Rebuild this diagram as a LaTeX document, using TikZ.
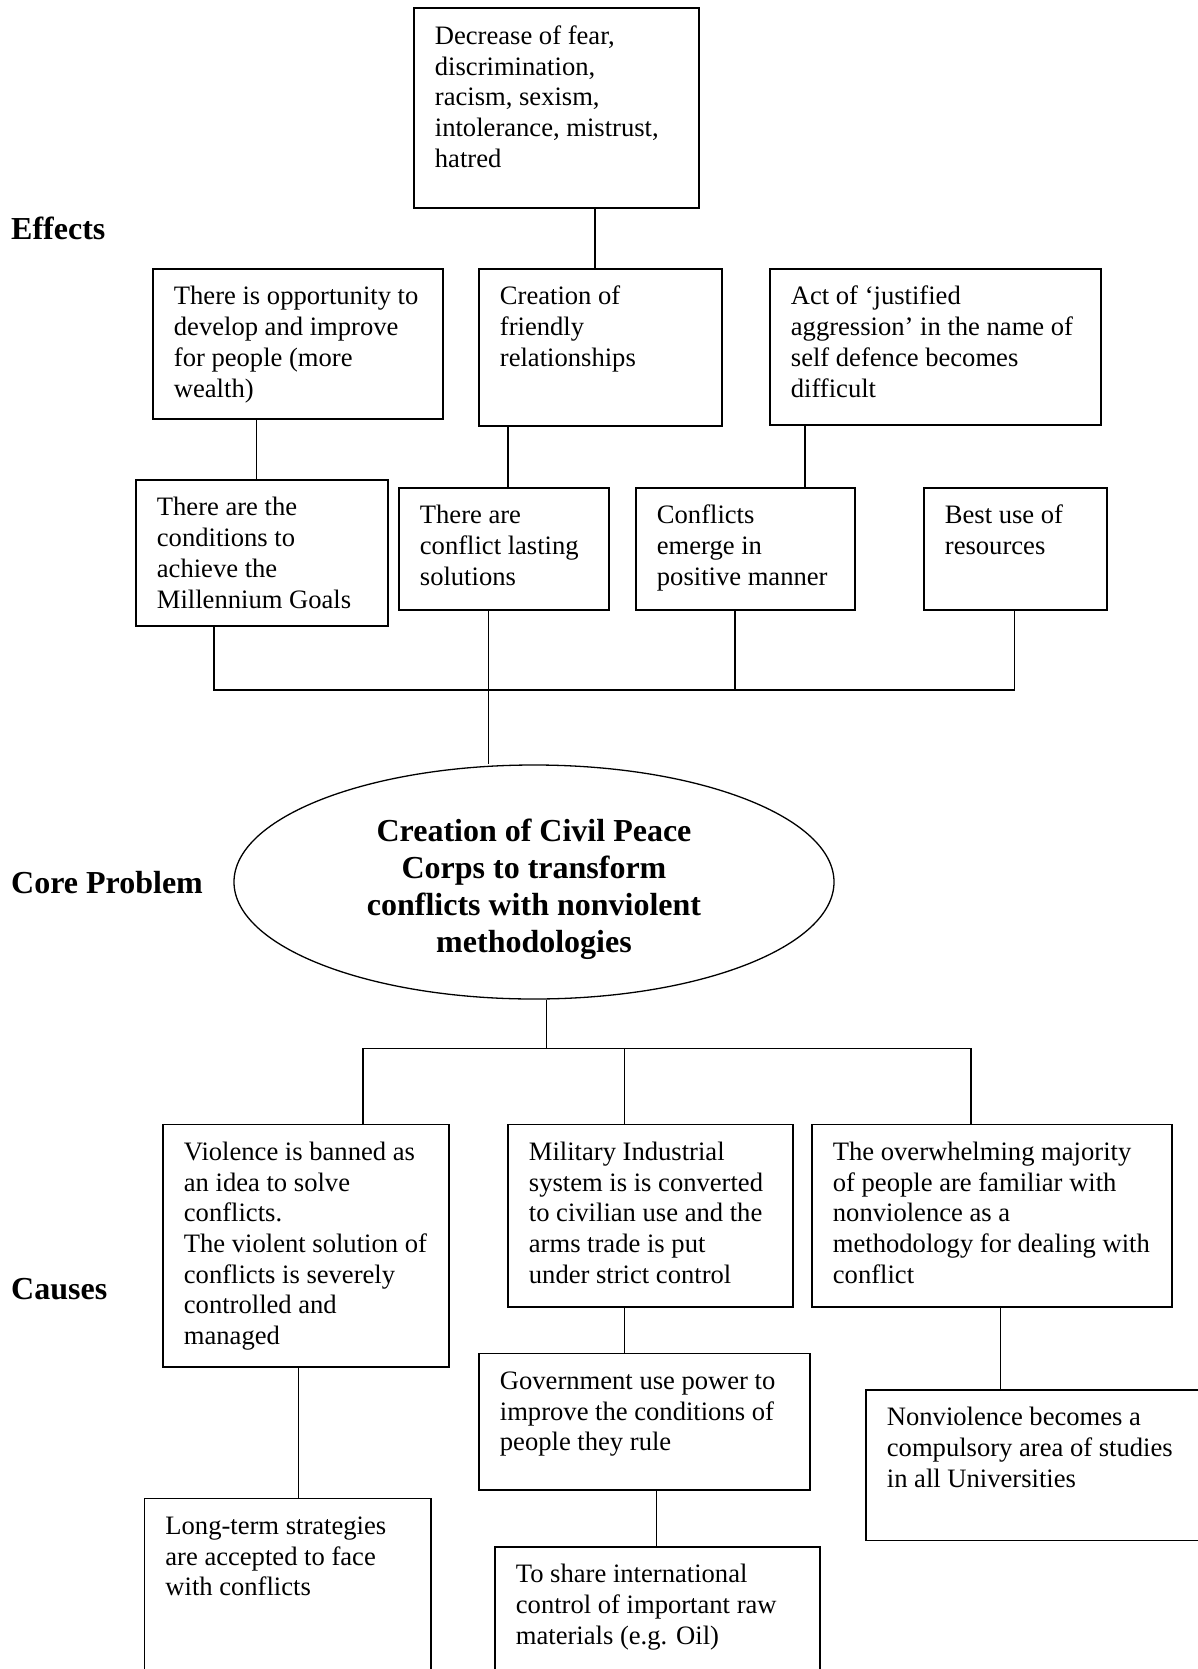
\documentclass[tikz,border=0pt]{standalone}
\usepackage{fontspec}
\setmainfont{Liberation Serif}
\usetikzlibrary{shapes.geometric}
\newcommand{\cell}[3]{\parbox[t][#2][t]{#1}{\raggedright\leftskip=21pt\relax\rule{0pt}{36pt}#3}}
\tikzset{
  bx/.style={draw, line width=1.8pt, inner sep=0pt, anchor=north west,
    font=\fontsize{26.6}{30.7}\selectfont},
  conn/.style={line width=1.3pt},
  lab/.style={inner sep=0pt, anchor=base west, font=\fontsize{32}{37}\selectfont\bfseries},
  coretxt/.style={inner sep=0pt, anchor=north, align=center, font=\fontsize{32}{37}\selectfont\bfseries},
}
\begin{document}
\begin{tikzpicture}[x=1pt, y=-1pt]
\useasboundingbox (0,0) rectangle (1197,1669);
% labels
\node[lab] (effects) at (11,240) {Effects};
\node[lab] (coreprob) at (11,893) {Core Problem};
\node[lab] (causes) at (11,1299.5) {Causes};
% effects boxes
\node[bx] (T) at (413,7.5) {\cell{285pt}{199.5pt}{Decrease of fear,\\discrimination,\\racism, sexism,\\intolerance, mistrust,\\hatred}};
\node[bx] (A) at (152,268) {\cell{290pt}{150pt}{There is opportunity to\\develop and improve\\for people (more\\wealth)}};
\node[bx] (B) at (478,268) {\cell{243pt}{157pt}{Creation of\\friendly\\relationships}};
\node[bx] (C) at (769,268) {\cell{331pt}{156pt}{Act of `justified\\aggression' in the name of\\self defence becomes\\difficult}};
\node[bx] (D) at (135,479) {\cell{252pt}{146pt}{There are the\\conditions to\\achieve the\\Millennium Goals}};
\node[bx] (E) at (398,487) {\cell{210pt}{122pt}{There are\\conflict lasting\\solutions}};
\node[bx] (F) at (635,487) {\cell{219pt}{122pt}{Conflicts\\emerge in\\positive manner}};
\node[bx] (G) at (923,487) {\cell{183pt}{122pt}{Best use of\\resources}};
% core
\node[draw, ellipse, line width=1.3pt, minimum width=600pt, minimum height=234pt, inner sep=0pt] (core) at (534,882) {};
\node[coretxt] (coretext) at (534,815) {\rule{0pt}{26pt}Creation of Civil Peace\\Corps to transform\\conflicts with nonviolent\\methodologies};
% causes boxes
\node[bx] (H) at (162,1123.5) {\cell{286pt}{242.5pt}{Violence is banned as\\an idea to solve\\conflicts.\\The violent solution of\\conflicts is severely\\controlled and\\managed}};
\node[bx] (I) at (507,1123.5) {\cell{285pt}{182.5pt}{Military Industrial\\system is is converted\\to civilian use and the\\arms trade is put\\under strict control}};
\node[bx] (J) at (811,1123.5) {\cell{360pt}{182.5pt}{The overwhelming majority\\of people are familiar with\\nonviolence as a\\methodology for dealing with\\conflict}};
\node[bx] (K) at (143.5,1497.5) {\cell{286.5pt}{177.5pt}{Long-term strategies\\are accepted to face\\with conflicts}};
\node[bx] (L) at (478,1352.5) {\cell{331pt}{136.5pt}{Government use power to\\improve the conditions of\\people they rule}};
\node[bx] (M) at (494,1546) {\cell{325pt}{129pt}{To share international\\control of important raw\\materials (e.g. Oil)}};
\node[bx] (N) at (865,1389) {\cell{340pt}{150.5pt}{Nonviolence becomes a\\compulsory area of studies\\in all Universities}};
% connector x positions
\coordinate (xTB) at (595,0);
\coordinate (xAD) at (256.5,0);
\coordinate (xBE) at (508,0);
\coordinate (xCF) at (805,0);
\coordinate (xE) at (488.5,0);
\coordinate (xF) at (735,0);
\coordinate (busL) at (214,690);
\coordinate (busR) at (1014.5,690);
\coordinate (xc) at (546.5,0);
\coordinate (xI) at (624.5,0);
\coordinate (bus2L) at (363,1048.5);
\coordinate (bus2R) at (971,1048.5);
\coordinate (xHK) at (298.5,0);
\coordinate (xLM) at (656.5,0);
\coordinate (xJN) at (1000.8,0);
% connectors top
\draw[conn] (T.south -| xTB) -- (B.north -| xTB);
\draw[conn] (A.south -| xAD) -- (D.north -| xAD);
\draw[conn] (B.south -| xBE) -- (E.north -| xBE);
\draw[conn] (C.south -| xCF) -- (F.north -| xCF);
\draw[conn] (D.south -| busL) -- (busL) -- (busR) -- (G.south -| busR);
\draw[conn] (F.south -| xF) -- (xF |- busL);
\draw[conn] (E.south -| xE) -- (xE |- core.north);
% connectors bottom
\draw[conn] (core.south -| xc) -- (xc |- bus2L);
\draw[conn] (H.north -| bus2L) -- (bus2L) -- (bus2R) -- (J.north -| bus2R);
\draw[conn] (I.north -| xI) -- (xI |- bus2L);
\draw[conn] (H.south -| xHK) -- (K.north -| xHK);
\draw[conn] (I.south -| xI) -- (L.north -| xI);
\draw[conn] (L.south -| xLM) -- (M.north -| xLM);
\draw[conn] (J.south -| xJN) -- (N.north -| xJN);
\end{tikzpicture}
\end{document}
